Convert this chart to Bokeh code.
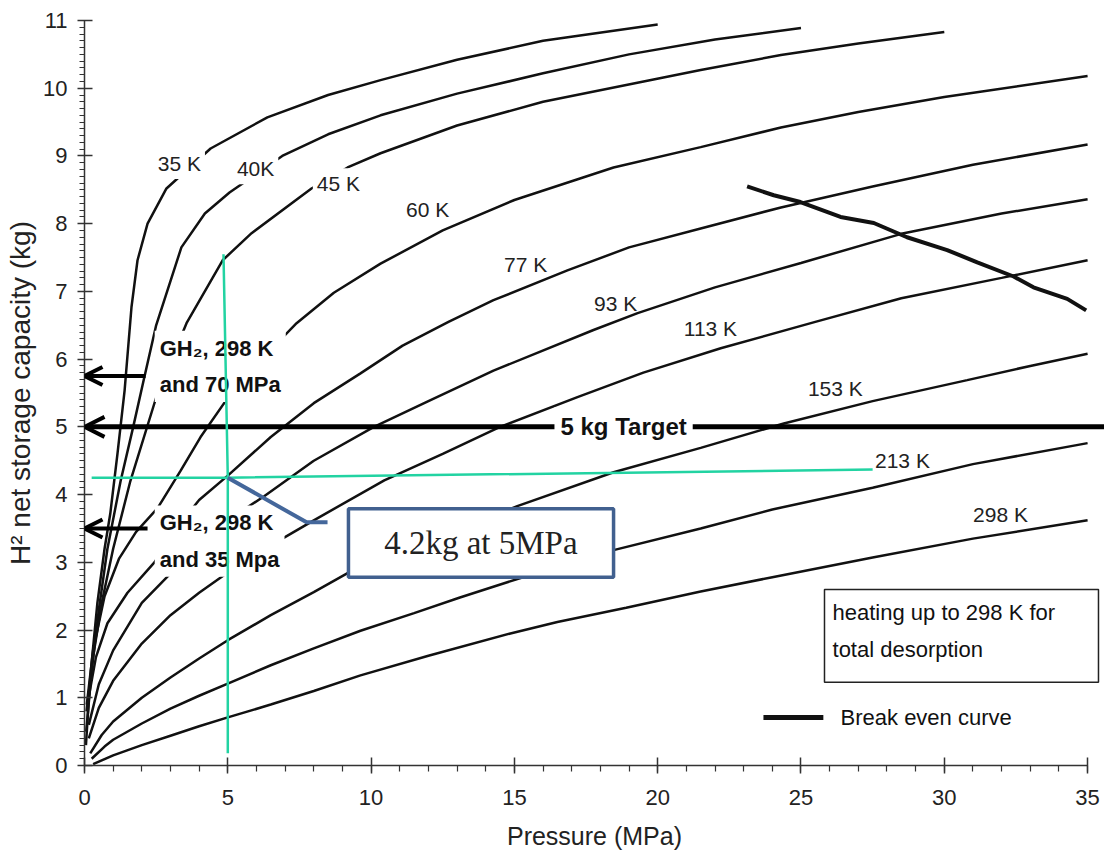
from bokeh.plotting import figure
from bokeh.models import Range1d, Label, Arrow, OpenHead, FixedTicker, BoxAnnotation
from bokeh.embed import file_html
from bokeh.resources import INLINE

# ---------------- data ----------------
# isotherms: pressure (MPa) -> H2 net storage capacity (kg)
p_35K = [0.05, 0.2, 0.45, 0.7, 0.9, 1.15, 1.4, 1.64, 1.85, 2.2, 2.86, 4.4, 6.38, 8.5, 10.33, 13, 16, 20]
c_35K = [0.3, 1.3, 2.4, 3.2, 3.72, 4.6, 5.54, 6.77, 7.46, 8.0, 8.52, 9.11, 9.57, 9.9, 10.12, 10.42, 10.7, 10.94]

p_40K = [0.06, 0.25, 0.5, 0.8, 1.26, 1.7, 2.06, 2.5, 3.38, 4.2, 5.06, 6.9, 8.5, 10.33, 13, 16, 19, 22, 25]
c_40K = [0.5, 1.4, 2.3, 3.2, 4.2, 5.0, 5.68, 6.5, 7.65, 8.15, 8.46, 9.0, 9.32, 9.6, 9.92, 10.22, 10.5, 10.72, 10.89]

p_45K = [0.07, 0.3, 0.6, 1.0, 1.6, 2.55, 3.56, 4.82, 5.83, 7.92, 9.18, 10.33, 13, 16, 21.5, 24.3, 27, 30]
c_45K = [0.8, 1.6, 2.4, 3.2, 4.2, 5.5, 6.53, 7.46, 7.86, 8.52, 8.83, 9.04, 9.45, 9.8, 10.27, 10.49, 10.66, 10.83]

p_60K = [0.08, 0.3, 0.7, 1.2, 1.8, 2.55, 3.35, 4.05, 5.2, 6.3, 7.4, 8.7, 10.33, 12.5, 15, 18.46, 21.5, 24.3, 27, 30, 35]
c_60K = [0.9, 1.7, 2.5, 3.05, 3.45, 3.8, 4.35, 4.85, 5.55, 6.05, 6.53, 6.98, 7.41, 7.9, 8.35, 8.83, 9.13, 9.42, 9.65, 9.87, 10.18]

p_77K = [0.1, 0.4, 0.8, 1.5, 2.44, 3.2, 4.0, 5.0, 6.5, 8.0, 9.63, 11.1, 12.7, 14.27, 16.85, 19, 21.5, 24.3, 27.5, 31, 35]
c_77K = [0.9, 1.6, 2.1, 2.55, 3.0, 3.5, 3.92, 4.28, 4.85, 5.35, 5.79, 6.2, 6.55, 6.87, 7.31, 7.65, 7.93, 8.24, 8.55, 8.87, 9.17]

p_93K = [0.15, 0.5, 1.0, 2.0, 3.5, 5.0, 6.28, 8.0, 10.1, 12, 14.27, 17.76, 19.3, 22, 25, 28.5, 32, 35]
c_93K = [0.6, 1.2, 1.7, 2.4, 3.05, 3.62, 3.98, 4.5, 5.0, 5.38, 5.83, 6.43, 6.68, 7.06, 7.42, 7.85, 8.15, 8.36]

p_113K = [0.15, 0.5, 1.0, 2.0, 3.0, 4.0, 5.0, 6.5, 8.0, 10.46, 12.5, 14.5, 17.2, 19.5, 22.2, 25.5, 28.5, 32, 35]
c_113K = [0.4, 0.85, 1.25, 1.8, 2.22, 2.55, 2.85, 3.25, 3.62, 4.21, 4.6, 5.0, 5.44, 5.8, 6.16, 6.55, 6.9, 7.2, 7.46]

p_153K = [0.2, 0.6, 1.0, 2.0, 3.0, 4.0, 5.0, 6.5, 8.0, 9.18, 10.5, 12.5, 15.1, 18.46, 21.5, 24.4, 27.5, 30.8, 33, 35]
c_153K = [0.18, 0.45, 0.65, 1.0, 1.3, 1.58, 1.85, 2.22, 2.56, 2.84, 3.07, 3.4, 3.83, 4.33, 4.69, 5.05, 5.38, 5.69, 5.9, 6.08]

p_213K = [0.25, 0.7, 1.0, 2.0, 3.0, 4.0, 5.0, 6.5, 8.0, 9.63, 11.5, 13.1, 15.3, 18.46, 21.5, 24, 27.5, 31, 35]
c_213K = [0.1, 0.28, 0.38, 0.62, 0.84, 1.03, 1.21, 1.48, 1.73, 1.99, 2.25, 2.48, 2.78, 3.18, 3.5, 3.78, 4.1, 4.45, 4.76]

p_298K = [0.3, 1.0, 2.0, 3.0, 4.0, 5.0, 6.5, 8.0, 9.63, 12, 14.86, 16.5, 18.9, 21.5, 24, 27.5, 31, 35]
c_298K = [0.02, 0.15, 0.3, 0.44, 0.58, 0.71, 0.9, 1.1, 1.33, 1.62, 1.95, 2.12, 2.33, 2.57, 2.78, 3.07, 3.35, 3.62]

# break even curve
p_break = [23.12, 24.05, 24.98, 26.38, 27.54, 28.70, 30.10, 31.15, 32.42, 33.11, 34.29, 34.95]
c_break = [8.55, 8.42, 8.32, 8.10, 8.01, 7.80, 7.61, 7.43, 7.22, 7.06, 6.89, 6.72]

curve_names = ["35 K", "40K", "45 K", "60 K", "77 K", "93 K", "113 K", "153 K", "213 K", "298 K"]
curve_pressures = [p_35K, p_40K, p_45K, p_60K, p_77K, p_93K, p_113K, p_153K, p_213K, p_298K]
curve_capacities = [c_35K, c_40K, c_45K, c_60K, c_77K, c_93K, c_113K, c_153K, c_213K, c_298K]

x_ticks = [0, 5, 10, 15, 20, 25, 30, 35]
y_ticks = [0, 1, 2, 3, 4, 5, 6, 7, 8, 9, 10, 11]

# reference values shown as arrows / guide lines
target_kg = 5.0
gh2_70MPa_kg = 5.75
gh2_35MPa_kg = 3.5
point_pressure = 5.0
point_capacity = 4.25

# ---------------- layout (positions of annotations) ----------------
curve_label_pos = [(3.31, 8.89), (5.97, 8.81), (8.86, 8.59), (11.97, 8.21), (15.39, 7.40),
                   (18.53, 6.82), (21.84, 6.45), (26.2, 5.57), (28.54, 4.50), (31.96, 3.71)]
gap_labels = 3  # first three labels sit in gaps of their curves

FONT = "Liberation Sans"

p = figure(width=1104, height=859, x_range=Range1d(0, 35.59), y_range=Range1d(0, 11),
           output_backend="svg", toolbar_location=None,
           min_border_left=84, min_border_right=0, min_border_top=20, min_border_bottom=94)
p.grid.visible = False
p.outline_line_color = None
p.background_fill_color = "white"

# axes
p.xaxis.ticker = FixedTicker(ticks=x_ticks, minor_ticks=list(range(0, 36)))
p.yaxis.ticker = FixedTicker(ticks=y_ticks, minor_ticks=[i / 10 for i in range(0, 111)])
p.xaxis.bounds = (0, 35)
p.yaxis.bounds = (0, 11)
for ax in (p.xaxis, p.yaxis):
    ax.axis_line_color = "#333333"
    ax.axis_line_width = 1.5
    ax.major_tick_line_color = "#333333"
    ax.major_tick_line_width = 1.5
    ax.minor_tick_line_color = "#333333"
    ax.minor_tick_line_width = 1.2
    ax.major_label_text_font = FONT
    ax.major_label_text_font_size = "22px"
    ax.major_label_text_color = "#222222"
    ax.axis_label_text_font = FONT
    ax.axis_label_text_font_style = "normal"
    ax.axis_label_text_color = "#222222"
p.xaxis.major_tick_in = 8
p.xaxis.major_tick_out = 8
p.xaxis.minor_tick_in = 0
p.xaxis.minor_tick_out = 6
p.yaxis.major_tick_in = 8
p.yaxis.major_tick_out = 7
p.yaxis.minor_tick_in = 0
p.yaxis.minor_tick_out = 5
p.xaxis.major_label_standoff = 16
p.yaxis.major_label_standoff = 10
p.xaxis.axis_label = "Pressure (MPa)"
p.xaxis.axis_label_text_font_size = "25px"
p.xaxis.axis_label_standoff = 14
p.yaxis.axis_label = "H\u00b2 net storage capacity (kg)"
p.yaxis.axis_label_text_font_size = "28px"
p.yaxis.axis_label_standoff = 4

# isotherms
for px, cy in zip(curve_pressures, curve_capacities):
    p.line(px, cy, line_color="#111111", line_width=2.5)

# break even curve
p.line(p_break, c_break, line_color="#111111", line_width=4)

# curve labels
for i, (name, (lx, ly)) in enumerate(zip(curve_names, curve_label_pos)):
    kw = dict(background_fill_color="white", padding=4) if i < gap_labels else {}
    p.add_layout(Label(x=lx, y=ly, text=name, text_font=FONT, text_font_size="21px",
                       text_color="#222222", text_align="center", text_baseline="middle", **kw))

# arrows
p.add_layout(Arrow(end=OpenHead(size=20, line_width=4, line_color="black"),
                   x_start=35.59, y_start=target_kg, x_end=0, y_end=target_kg,
                   line_width=5, line_color="black"))
p.add_layout(Arrow(end=OpenHead(size=18, line_width=4, line_color="black"),
                   x_start=2.13, y_start=gh2_70MPa_kg, x_end=0, y_end=gh2_70MPa_kg,
                   line_width=4, line_color="black"))
p.add_layout(Arrow(end=OpenHead(size=18, line_width=4, line_color="black"),
                   x_start=2.2, y_start=gh2_35MPa_kg, x_end=0, y_end=gh2_35MPa_kg,
                   line_width=4, line_color="black"))

p.add_layout(Label(x=18.81, y=target_kg, text="5 kg Target", text_font=FONT, text_font_size="24px",
                   text_font_style="bold", text_color="#111111", text_align="center",
                   text_baseline="middle", background_fill_color="white", padding=6))

p.add_layout(Label(x=2.45, y=6.42, text="GH\u2082, 298 K\nand 70 MPa", text_font=FONT,
                   text_font_size="22px", text_font_style="bold", text_color="#111111",
                   text_align="left", text_baseline="top", text_line_height=1.45,
                   background_fill_color="white", padding=5))
p.add_layout(Label(x=2.45, y=3.84, text="GH\u2082, 298 K\nand 35 Mpa", text_font=FONT,
                   text_font_size="22px", text_font_style="bold", text_color="#111111",
                   text_align="left", text_baseline="top", text_line_height=1.45,
                   background_fill_color="white", padding=5))

# callout box "4.2kg at 5MPa"
p.add_layout(BoxAnnotation(left=9.21, right=18.46, top=3.79, bottom=2.78,
                           fill_color="white", fill_alpha=1.0,
                           line_color="#41608F", line_alpha=1.0, line_width=3.5))
p.add_layout(Label(x=13.83, y=3.28, text="4.2kg at 5MPa", text_font="Liberation Serif",
                   text_font_size="33px", text_color="#222222", text_align="center",
                   text_baseline="middle"))

# note box
p.add_layout(BoxAnnotation(left=25.82, right=35.38, top=2.6, bottom=1.23,
                           fill_color="white", fill_alpha=1.0,
                           line_color="#222222", line_alpha=1.0, line_width=1.5))
p.add_layout(Label(x=26.1, y=2.45, text="heating up to 298 K for\ntotal desorption",
                   text_font=FONT, text_font_size="22px", text_color="#111111",
                   text_align="left", text_baseline="top", text_line_height=1.5))

# legend for break even curve
p.line([23.69, 25.78], [0.71, 0.71], line_color="#111111", line_width=5)
p.add_layout(Label(x=26.38, y=0.71, text="Break even curve", text_font=FONT,
                   text_font_size="22px", text_color="#111111", text_align="left",
                   text_baseline="middle"))

# green guide lines through the 5 MPa / 77 K point
g1 = p.line([4.85, point_pressure, point_pressure], [7.55, point_capacity, 0.18],
            line_color="#22D3A2", line_width=2.5)
g2 = p.line([0.25, point_pressure, 27.5], [point_capacity, point_capacity, 4.37],
            line_color="#22D3A2", line_width=2.5)
g1.level = "overlay"
g2.level = "overlay"

# connector from the point to the callout
c1 = p.line([point_pressure, 7.75, 8.48], [point_capacity, 3.59, 3.59],
            line_color="#44679B", line_width=4)
c1.level = "overlay"

open("out.html", "w").write(file_html(p, INLINE))
